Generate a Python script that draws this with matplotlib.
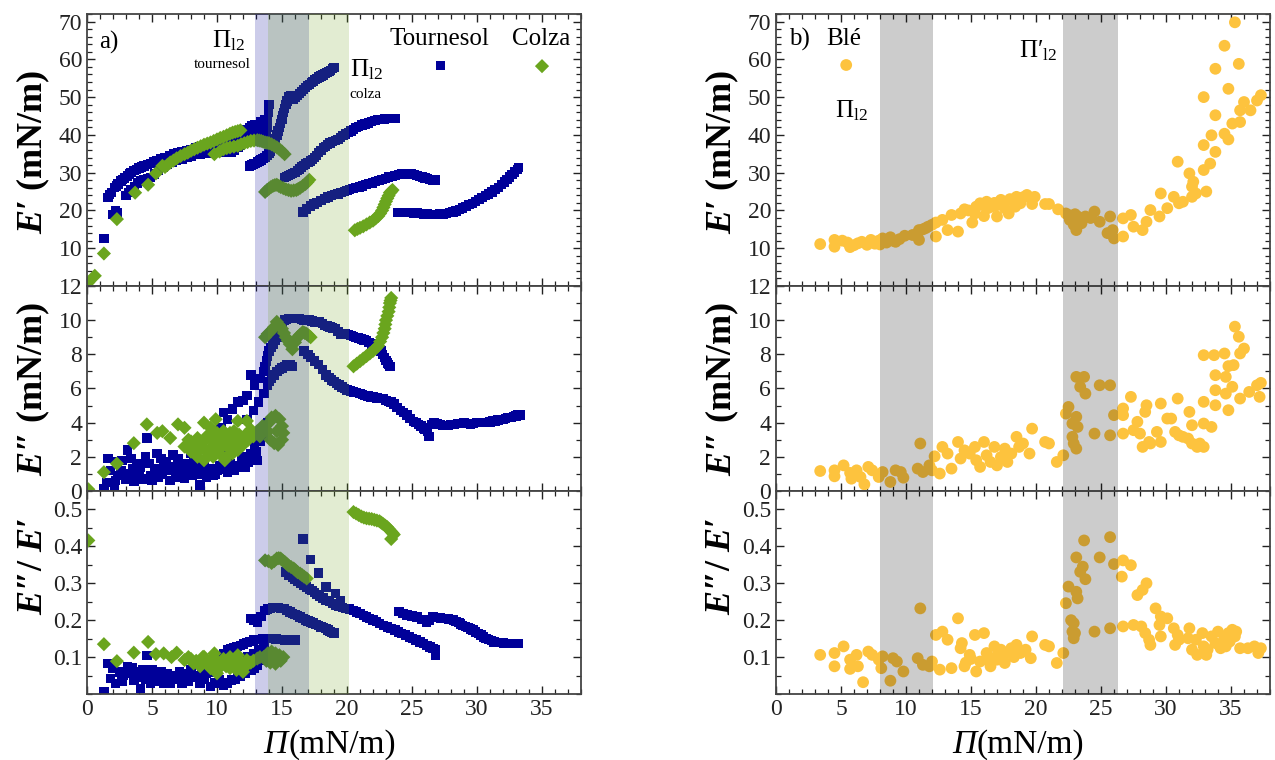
import matplotlib
matplotlib.use("Agg")
import matplotlib.pyplot as plt
from matplotlib.ticker import MultipleLocator

plt.rcParams['font.family'] = ['Liberation Serif', 'DejaVu Serif']
plt.rcParams['mathtext.fontset'] = 'custom'
plt.rcParams['mathtext.rm'] = 'Liberation Serif'
plt.rcParams['mathtext.it'] = 'Liberation Serif:italic'
plt.rcParams['mathtext.bf'] = 'Liberation Serif:bold'
plt.rcParams['mathtext.bfit'] = 'Liberation Serif:italic:bold'

# ---------------- Tournesol (blue squares) ----------------
tour_Ep_x = [1.3, 2.0, 2.2, 2.3, 1.6, 1.9, 2.1, 2.4, 2.6, 2.9, 3.1, 3.4, 3.6, 4.0, 4.4, 4.9, 5.4, 6.0, 6.7, 7.3,
             8.0, 8.7, 9.5, 10.1, 10.8, 11.3, 11.8, 12.3, 12.7, 13.1, 13.4, 13.7, 13.9,
             3.0, 3.4, 3.9, 4.4, 4.9, 5.5, 6.2, 6.9, 7.7, 8.4, 9.0, 9.7, 10.3, 11.1, 11.6, 12.0, 12.5, 12.9, 13.3,
             13.8, 13.85, 13.9, 13.95, 14.0,
             12.5, 12.8, 13.1, 13.4, 13.7, 14.0, 14.2, 14.4, 14.6, 14.8, 15.0, 15.1, 15.3, 15.5, 15.7, 15.9, 16.2,
             16.5, 16.8, 17.1, 17.4, 17.7, 18.0, 18.3, 18.6, 18.9, 19.0,
             15.2, 15.5, 15.8, 16.2, 16.5, 16.8, 17.2, 17.5, 17.8, 18.2, 18.5, 18.9, 19.3, 19.7, 20.1, 20.5, 20.9,
             21.4, 21.9, 22.4, 22.9, 23.4, 23.7,
             16.6, 17.2, 17.7, 18.3, 18.8, 19.3, 19.8, 20.2, 20.7, 21.2, 21.7, 22.2, 22.7, 23.2, 23.7, 24.2, 24.7,
             25.2, 25.6, 26.0, 26.4, 26.8,
             23.9, 24.4, 24.9, 25.4, 25.9, 26.4, 26.9, 27.4, 27.9, 28.4, 28.9, 29.4, 29.9, 30.4, 30.9, 31.4, 31.9,
             32.3, 32.7, 33.1, 33.2]
tour_Ep_y = [12.6, 19.0, 19.9, 19.4, 23.4, 24.8, 26.0, 27.0, 27.8, 28.6, 29.1, 30.0, 30.5, 31.2, 31.8, 32.4, 33.1,
             34.0, 34.9, 35.5, 36.2, 36.9, 37.5, 38.1, 38.8, 39.5, 40.1, 41.5, 42.3, 42.8, 43.5, 44.0, 43.5,
             24.0, 25.5, 27.3, 28.2, 28.7, 30.5, 32.2, 33.2, 34.0, 34.8, 35.0, 35.4, 35.7, 35.3, 36.6, 38.0, 40.1,
             40.8, 41.5,
             40.0, 42.0, 44.0, 46.0, 48.0,
             31.8, 32.3, 32.8, 33.4, 34.0, 35.0, 36.5, 38.0, 40.0, 42.0, 44.0, 46.0, 48.0, 50.0, 50.5, 49.5, 50.5,
             51.5, 52.5, 53.4, 54.2, 55.0, 55.6, 56.2, 56.8, 57.5, 57.8,
             28.7, 29.3, 29.8, 30.5, 31.5, 32.3, 33.1, 34.0, 35.3, 36.6, 37.4, 38.2, 38.8, 39.8, 40.6, 41.5, 42.2,
             42.9, 43.5, 44.0, 44.2, 44.4, 44.4,
             19.6, 21.2, 22.1, 23.2, 24.0, 24.4, 25.0, 25.6, 26.0, 26.5, 27.1, 27.6, 28.2, 28.8, 29.3, 29.6, 29.6,
             29.5, 29.0, 28.6, 28.2, 28.1,
             19.4, 19.5, 19.4, 19.3, 19.1, 19.0, 19.0, 19.1, 19.4, 19.9, 20.6, 21.5, 22.4, 23.4, 24.4, 25.5, 26.8,
             28.2, 29.5, 30.9, 31.3]
tour_Ep_x2 = [1.75, 2.25, 2.75, 3.25, 3.8, 4.2, 4.65, 5.15, 5.7, 6.35, 7.0, 7.65, 8.35, 9.1, 9.8, 10.45, 11.05,
              11.55, 12.05, 12.5, 12.9,
              3.2, 3.65, 4.15, 4.65, 5.2, 5.85, 6.55, 7.3, 8.05, 8.7, 9.35, 10.0, 10.7, 11.35, 11.8, 12.25, 12.7, 13.1,
              12.65, 12.95, 13.25, 13.55, 13.85, 14.1, 14.3, 14.5, 14.7, 14.9, 15.05, 15.2, 15.4, 16.05, 16.35,
              16.65, 16.95, 17.25, 17.55, 17.85, 18.15, 18.45, 18.75,
              15.35, 15.65, 16.0, 16.35, 16.65, 17.0, 17.35, 17.65, 18.0, 18.35, 18.7, 19.1, 19.5, 19.9, 20.3, 20.7,
              21.15, 21.65, 22.15, 22.65, 23.15,
              16.9, 17.45, 18.0, 18.55, 19.05, 19.55, 20.0, 20.45, 20.95, 21.45, 21.95, 22.45, 22.95, 23.45, 23.95,
              24.45, 24.95, 25.4, 25.8, 26.2, 26.6,
              24.15, 24.65, 25.15, 25.65, 26.15, 26.65, 27.15, 27.65, 28.15, 28.65, 29.15, 29.65, 30.15, 30.65,
              31.15, 31.65, 32.1, 32.5, 32.9]
tour_Ep_y2 = [24.2, 26.5, 28.2, 29.6, 30.9, 31.5, 32.1, 32.8, 33.6, 34.5, 35.2, 35.9, 36.6, 37.2, 37.8, 38.5, 39.1,
              39.8, 40.8, 41.9, 42.6,
              24.8, 26.4, 27.8, 28.5, 29.6, 31.3, 32.7, 33.6, 34.4, 34.9, 35.2, 35.5, 35.5, 36.0, 37.3, 39.0, 40.5, 41.1,
              32.0, 32.5, 33.1, 33.7, 34.5, 35.7, 37.2, 39.0, 41.0, 43.0, 45.0, 47.0, 49.0, 50.0, 51.0,
              52.0, 53.0, 53.8, 54.6, 55.3, 55.9, 56.5, 57.1,
              29.0, 29.5, 30.1, 31.0, 31.9, 32.7, 33.5, 34.6, 35.9, 37.0, 37.8, 38.5, 39.3, 40.2, 41.0, 41.9,
              42.6, 43.2, 43.8, 44.1, 44.3,
              20.4, 21.7, 22.7, 23.6, 24.2, 24.7, 25.3, 25.8, 26.2, 26.8, 27.3, 27.9, 28.5, 29.0, 29.5,
              29.6, 29.6, 29.3, 28.8, 28.4, 28.1,
              19.45, 19.45, 19.35, 19.2, 19.05, 19.0, 19.05, 19.2, 19.6, 20.2, 21.0, 21.9, 22.9, 23.9,
              24.9, 26.1, 27.5, 28.8, 30.2]

tour_Epp_x = [1.3, 2.1, 1.6, 2.3, 2.2, 3.1, 3.4, 3.6, 4.1, 4.6, 4.9, 5.7, 6.2, 6.6, 7.2, 7.5, 8.2, 8.7, 9.3, 9.5,
              10.0, 10.8, 11.8, 13.1, 2.6, 2.9, 3.3, 3.8, 4.3, 4.5, 5.2, 5.5, 5.9, 6.4, 6.9, 7.0, 7.8, 8.0, 8.5,
              9.0, 9.7, 10.2, 10.6, 11.0, 11.3, 11.9, 12.2, 12.6, 12.9, 13.2, 13.4, 13.7, 13.9,
              9.8, 10.3, 10.5, 10.8, 11.2, 11.6, 12.0, 12.3, 12.6, 12.9, 13.3, 13.6, 13.8, 14.0, 14.3, 14.6, 14.9, 15.2,
              12.3, 12.8, 13.2, 13.6, 13.9, 14.2, 14.6, 15.0, 15.4, 15.8,
              15.5, 15.9, 16.3, 16.7, 17.1, 17.5, 17.9, 18.3, 18.7, 19.1, 19.5, 19.9, 20.3, 20.7, 21.1, 21.5, 21.9,
              22.3, 22.6, 22.9, 23.1, 23.3,
              16.7, 17.2, 17.8, 18.4, 18.8, 19.2, 19.6, 20.0, 20.5, 21.0, 21.4, 21.8, 22.3, 22.8, 23.2, 23.6, 24.1,
              24.6, 25.1, 25.5, 25.9, 26.2, 26.3, 26.7, 27.2, 27.6, 28.0, 28.5, 29.0, 29.5, 30.0, 30.5, 31.0, 31.4,
              31.8, 32.2, 32.6, 33.0, 33.3]
tour_Epp_y = [0.16, 0.35, 1.9, 1.7, 0.6, 2.4, 1.9, 0.55, 1.4, 3.1, 0.9, 1.9, 1.2, 2.1, 1.5, 0.75, 1.7, 0.35, 1.1, 3.5,
              1.2, 1.1, 1.4, 1.8, 1.2, 0.9, 1.0, 1.6, 0.7, 2.0, 1.3, 0.8, 1.5, 0.6, 1.0, 1.9, 1.2, 2.2, 1.0,
              1.6, 0.9, 1.5, 2.2, 1.6, 1.2, 2.0, 1.4, 2.2, 2.6, 3.0, 3.2, 3.6, 4.0,
              3.0, 3.7, 4.6, 4.2, 4.8, 5.2, 5.3, 5.6, 6.8, 6.2, 6.6, 7.0, 7.6, 8.2, 8.6, 9.0, 9.5, 10.0,
              4.2, 4.7, 5.2, 5.7, 6.2, 6.6, 7.0, 7.2, 7.4, 7.3,
              10.1, 10.1, 10.1, 10.0, 10.0, 9.9, 9.9, 9.7, 9.6, 9.5, 9.2, 9.2, 9.1, 9.0, 8.9, 8.8, 8.6,
              8.4, 8.2, 7.8, 7.5, 7.3,
              8.2, 7.8, 7.4, 6.8, 6.5, 6.3, 6.1, 5.9, 5.8, 5.7, 5.6, 5.5, 5.45, 5.4, 5.25, 5.1, 4.7,
              4.45, 4.06, 3.9, 3.7, 3.5, 3.2, 4.0, 3.9, 3.85, 3.9, 3.95, 4.0, 3.9, 4.0, 4.0, 4.05, 4.1,
              4.2, 4.25, 4.3, 4.4, 4.45]
tour_Epp_x2 = [15.35, 15.7, 16.1, 16.5, 16.9, 17.3, 17.7, 18.1, 18.5, 18.9, 19.3, 19.7, 20.1, 20.5, 20.9, 21.3, 21.7,
               22.1, 22.45, 22.75, 23.0, 23.2,
               17.0, 17.5, 18.1, 18.6, 19.0, 19.4, 19.8, 20.25, 20.75, 21.2, 21.6, 22.05, 22.55, 23.0, 23.4, 23.85,
               24.35, 24.85, 25.3, 25.7, 26.0, 26.5, 26.95, 27.4, 27.8, 28.25, 28.75, 29.25, 29.75, 30.25, 30.75,
               31.2, 31.6, 32.0, 32.4, 32.8, 33.15,
               13.7, 13.9, 14.15, 14.45, 14.75, 15.05,
               14.05, 14.4, 14.8, 15.2, 15.6,
               1.5, 1.8, 2.4, 2.7, 3.0, 3.5, 4.0, 4.8, 5.0, 5.4, 5.8, 6.1, 6.5, 6.8, 7.3, 7.7, 8.1, 8.4, 8.9, 9.2,
               9.6, 9.9, 10.4, 10.9, 11.5, 12.0, 12.4, 12.7, 13.0, 13.3, 13.6]
tour_Epp_y2 = [10.05, 10.1, 10.1, 10.05, 10.0, 9.95, 9.9, 9.8, 9.65, 9.55, 9.35, 9.2, 9.15, 9.05, 8.95, 8.85, 8.7,
               8.5, 8.3, 8.0, 7.65, 7.4,
               8.0, 7.6, 7.1, 6.65, 6.4, 6.2, 6.0, 5.85, 5.75, 5.65, 5.55, 5.5, 5.42, 5.3, 5.2, 4.9,
               4.6, 4.25, 4.0, 3.8, 3.6, 3.9, 3.95, 3.85, 3.85, 3.9, 3.95, 3.95, 3.95, 4.0, 4.0,
               4.1, 4.15, 4.2, 4.3, 4.35, 4.45,
               7.3, 7.9, 8.4, 8.8, 9.25, 9.75,
               6.4, 6.8, 7.1, 7.3, 7.4,
               0.5, 1.2, 0.9, 1.8, 0.7, 1.3, 0.9, 1.6, 0.6, 2.2, 1.0, 1.7, 1.4, 0.8, 1.1, 1.6, 0.9, 1.4, 1.2, 0.8,
               1.3, 1.0, 1.3, 1.4, 1.5, 1.4, 1.7, 2.0, 2.3, 2.9, 3.3]

tour_ratio_x = [1.3, 1.6, 1.8, 2.2, 3.1, 3.6, 4.1, 4.6, 4.9, 5.7, 6.4, 7.5, 8.7, 9.5, 10.5, 11.1, 11.8, 12.6, 13.1, 13.6,
                2.5, 2.8, 3.3, 3.9, 4.3, 5.2, 5.5, 6.0, 6.8, 7.1, 7.8, 8.2, 9.0, 9.8, 10.2, 10.8, 11.4, 12.2, 12.9, 13.3,
                8.0, 8.8, 9.5, 10.2, 10.8, 11.3, 11.8, 12.3, 12.8, 13.3, 13.8, 14.3, 14.8, 15.2, 15.6, 16.0,
                12.6, 13.1, 13.7, 14.1, 14.5, 14.9, 15.2, 15.6, 16.0, 16.4, 16.8, 17.2, 17.6, 18.0, 18.4, 18.7, 19.0,
                16.6, 17.2, 17.8, 18.4, 19.1, 19.5,
                15.3, 15.8, 16.2, 16.7, 17.1, 17.5, 17.9, 18.4, 18.9, 19.4, 19.9, 20.5, 21.0, 21.5, 22.0, 22.5, 23.1,
                23.7, 24.2, 24.8, 25.3, 25.9, 26.4, 26.8, 26.8,
                24.0, 24.6, 25.4, 26.1, 26.6, 27.0, 27.4, 27.8, 28.2, 28.6, 28.9, 29.3, 29.7, 30.1, 30.5, 30.9, 31.3,
                31.8, 32.3, 32.8, 33.2]
tour_ratio_y = [0.006, 0.083, 0.042, 0.029, 0.074, 0.038, 0.015, 0.105, 0.029, 0.06, 0.029, 0.047, 0.029, 0.02, 0.024,
                0.038, 0.047, 0.065, 0.078, 0.1,
                0.06, 0.05, 0.055, 0.045, 0.065, 0.05, 0.035, 0.045, 0.04, 0.06, 0.035, 0.05, 0.04, 0.03, 0.04, 0.03,
                0.04, 0.055, 0.07, 0.09,
                0.065, 0.07, 0.08, 0.1, 0.119, 0.125, 0.132, 0.14, 0.146, 0.148, 0.15, 0.15, 0.148, 0.146, 0.146, 0.146,
                0.205, 0.195, 0.227, 0.232, 0.235, 0.232, 0.232, 0.222, 0.215, 0.209, 0.2, 0.195, 0.189, 0.182, 0.177,
                0.17, 0.165,
                0.42, 0.365, 0.328, 0.29, 0.272, 0.254,
                0.33, 0.315, 0.305, 0.295, 0.285, 0.275, 0.265, 0.254, 0.245, 0.238, 0.232, 0.227, 0.218, 0.209, 0.2,
                0.191, 0.182, 0.173, 0.164, 0.155, 0.146, 0.137, 0.127, 0.119, 0.105,
                0.223, 0.214, 0.209, 0.195, 0.209, 0.207, 0.205, 0.203, 0.2, 0.193, 0.186, 0.18, 0.173, 0.164, 0.155,
                0.148, 0.141, 0.139, 0.137, 0.137, 0.137]
tour_ratio_x2 = [15.55, 16.0, 16.45, 16.9, 17.3, 17.7, 18.15, 18.65, 19.15, 19.65, 20.2, 20.75, 21.25, 21.75, 22.25,
                 22.8, 23.4, 23.95, 24.5, 25.05, 25.6, 26.15, 26.6,
                 24.3, 25.0, 25.75, 26.35, 26.8, 27.2, 27.6, 28.0, 28.4, 28.75, 29.1, 29.5, 29.9, 30.3, 30.7, 31.1,
                 31.55, 32.05, 32.55, 33.0,
                 12.85, 13.4, 13.9, 14.3, 14.7, 15.05, 15.4, 15.8, 16.2, 16.6, 17.0, 17.4, 17.8, 18.2, 18.55, 18.85,
                 10.5, 11.05, 11.55, 12.05, 12.55, 13.05, 13.55, 14.05, 14.55, 15.0, 15.4, 15.8,
                 2.0, 2.7, 3.5, 4.0, 4.5, 5.0, 5.9, 6.2, 6.6, 7.3, 7.7, 8.5, 9.2, 9.7, 10.0, 10.4, 10.9, 11.3, 11.6,
                 12.0, 12.4, 12.8, 13.2, 13.6]
tour_ratio_y2 = [0.322, 0.31, 0.3, 0.29, 0.28, 0.27, 0.26, 0.25, 0.241, 0.235, 0.23, 0.222, 0.213, 0.205, 0.196,
                 0.186, 0.177, 0.168, 0.16, 0.15, 0.141, 0.132, 0.123,
                 0.218, 0.211, 0.202, 0.2, 0.208, 0.206, 0.204, 0.202, 0.196, 0.19, 0.183, 0.176, 0.168, 0.16, 0.151,
                 0.145, 0.14, 0.138, 0.137, 0.137,
                 0.2, 0.21, 0.23, 0.234, 0.234, 0.232, 0.227, 0.218, 0.212, 0.205, 0.198, 0.192, 0.185, 0.18, 0.173,
                 0.167,
                 0.11, 0.122, 0.128, 0.136, 0.143, 0.147, 0.149, 0.15, 0.149, 0.147, 0.146, 0.146,
                 0.07, 0.035, 0.07, 0.06, 0.04, 0.065, 0.03, 0.055, 0.05, 0.03, 0.055, 0.045, 0.055, 0.06, 0.07,
                 0.085, 0.09, 0.1, 0.06, 0.08, 0.1, 0.11, 0.12, 0.13]

# ---------------- Colza (green diamonds) ----------------
colza_Ep_x = [0.1, 0.6, 1.3, 2.3, 3.7, 4.7, 5.3, 5.8,
              6.0, 6.4, 6.9, 7.5, 8.0, 8.5, 9.0, 9.5, 10.0, 10.5, 11.0, 11.4, 11.8,
              9.8, 10.5, 11.0, 11.6, 12.1, 12.6, 13.1, 13.4, 13.7, 14.0, 14.4, 14.8, 15.2,
              13.7, 14.0, 14.3, 14.6, 14.9, 15.3, 15.7, 16.1, 16.4, 16.8, 17.1,
              20.6, 21.0, 21.5, 22.0, 22.4, 22.7, 22.9, 23.1, 23.3, 23.5]
colza_Ep_y = [0.9, 2.7, 8.6, 17.7, 24.7, 26.8, 29.8, 31.8,
              31.5, 32.7, 33.8, 34.9, 35.8, 36.6, 37.4, 38.0, 38.8, 39.5, 40.3, 40.8, 41.2,
              34.9, 36.2, 36.7, 37.1, 37.8, 38.4, 38.6, 38.4, 38.0, 37.8, 37.1, 36.2, 34.9,
              24.9, 25.8, 26.5, 26.8, 26.2, 25.6, 25.2, 25.4, 26.0, 27.0, 28.1,
              14.75, 15.4, 16.3, 17.3, 18.5, 20.0, 21.6, 23.2, 24.7, 25.4]
colza_Ep_x2 = [6.2, 6.65, 7.2, 7.75, 8.25, 8.75, 9.25, 9.75, 10.25, 10.75, 11.2, 11.6,
               10.2, 10.75, 11.3, 11.85, 12.35, 12.85, 13.25, 13.55, 13.85, 14.2, 14.6, 15.0,
               13.85, 14.15, 14.45, 14.75, 15.1, 15.5, 15.9, 16.25, 16.6, 16.95,
               20.8, 21.25, 21.75, 22.2, 22.55, 22.8, 23.0, 23.2, 23.4]
colza_Ep_y2 = [32.1, 33.2, 34.4, 35.3, 36.2, 37.0, 37.7, 38.4, 39.2, 39.9, 40.6, 41.0,
               35.6, 36.5, 36.9, 37.5, 38.1, 38.5, 38.5, 38.2, 37.9, 37.5, 36.7, 35.6,
               25.4, 26.2, 26.7, 26.5, 25.9, 25.4, 25.3, 25.7, 26.5, 27.5,
               15.1, 15.8, 16.8, 17.9, 19.2, 20.8, 22.4, 23.9, 25.0]

colza_Epp_x = [0.1, 1.3, 2.3, 3.6, 4.6, 5.4, 5.8, 6.4, 7.0, 7.5, 8.0, 8.5, 9.0, 9.5, 9.9, 10.0, 10.5, 11.1, 11.6,
               12.3, 13.1,
               7.5, 8.0, 8.5, 8.8, 9.0, 9.2, 9.5, 9.7, 10.0, 10.2, 10.4, 10.6, 10.8, 11.0, 11.2, 11.4, 11.6, 11.9, 12.2,
               13.9, 14.0, 14.2, 14.5, 14.8, 15.0, 15.1, 15.0, 14.7, 14.4, 14.1, 14.6,
               13.7, 14.2, 14.6, 15.0, 15.3, 15.6, 15.8, 16.2, 16.6, 16.9, 17.2,
               20.5, 21.0, 21.5, 22.0, 22.4, 22.7, 22.9, 23.0, 23.2, 23.3, 23.4]
colza_Epp_y = [0.1, 1.1, 1.6, 2.8, 3.9, 3.4, 3.5, 3.1, 3.9, 3.7, 2.9, 3.1, 4.0, 3.7, 4.2, 2.9, 3.5, 2.9, 4.1,
               4.1, 3.5,
               2.6, 2.3, 2.0, 2.6, 1.8, 3.2, 2.5, 2.0, 3.4, 2.2, 3.0, 1.8, 2.6, 3.4, 2.2, 3.0, 2.4, 3.0, 3.3,
               3.5, 4.0, 4.3, 4.4, 4.2, 3.8, 3.4, 3.0, 2.7, 2.8, 3.0, 3.5,
               9.0, 9.4, 9.9, 9.5, 9.0, 8.6, 8.3, 9.0, 9.3, 9.2, 9.0,
               7.3, 7.6, 7.9, 8.2, 8.5, 9.0, 9.5, 10.0, 10.5, 11.0, 11.3]
colza_Epp_x2 = [20.75, 21.25, 21.75, 22.2, 22.55, 22.8, 22.95, 23.1, 23.25, 23.35,
                7.8, 8.2, 8.6, 9.0, 9.3, 9.6, 9.9, 10.1, 10.3, 10.5, 10.7, 10.9, 11.1, 11.3, 11.5, 11.7, 12.0,
                12.4, 12.6, 12.8, 13.3, 13.5,
                13.9, 14.4, 14.8, 15.15, 15.45, 16.0, 16.4, 16.75, 17.05]
colza_Epp_y2 = [7.45, 7.75, 8.05, 8.35, 8.75, 9.25, 9.75, 10.25, 10.75, 11.15,
                3.0, 2.7, 2.4, 2.9, 2.2, 3.0, 2.7, 2.4, 3.3, 2.7, 3.1, 2.1, 2.7, 3.5, 2.8, 3.3, 2.7,
                3.0, 3.6, 3.2, 3.2, 3.8,
                9.2, 9.6, 9.7, 9.25, 8.8, 8.7, 9.15, 9.25, 9.1]

colza_ratio_x = [0.1, 1.3, 2.3, 3.6, 4.7, 5.3, 5.9, 6.5, 6.9, 7.5, 8.2, 9.0, 9.8, 10.0, 10.8, 11.6, 12.3, 13.1,
                 7.8, 8.4, 8.7, 9.2, 9.5, 9.8, 10.3, 10.5, 11.0, 11.2, 11.5, 11.8, 12.0, 12.6,
                 13.6, 13.9, 14.2, 14.5, 14.8, 15.1, 14.9, 14.5, 14.1, 13.8,
                 13.7, 14.2, 14.6, 14.9, 15.2, 15.5, 15.9, 16.2, 16.4, 16.7, 16.9,
                 20.5, 20.9, 21.3, 21.7, 22.1, 22.5, 22.8, 23.1, 23.4, 23.6, 23.4]
colza_ratio_y = [0.416, 0.135, 0.089, 0.112, 0.141, 0.108, 0.11, 0.1, 0.112, 0.092, 0.083, 0.101, 0.11, 0.056, 0.083,
                 0.105, 0.092, 0.096,
                 0.1, 0.09, 0.075, 0.085, 0.07, 0.09, 0.075, 0.095, 0.07, 0.09, 0.065, 0.08, 0.06, 0.085,
                 0.1, 0.11, 0.115, 0.11, 0.105, 0.1, 0.09, 0.082, 0.085, 0.09,
                 0.362, 0.355, 0.367, 0.367, 0.358, 0.348, 0.34, 0.33, 0.326, 0.318, 0.313,
                 0.493, 0.485, 0.478, 0.475, 0.472, 0.468, 0.46, 0.452, 0.44, 0.432, 0.42]
colza_ratio_x2 = [8.0, 8.6, 8.9, 9.35, 9.6, 10.1, 10.7, 11.0, 11.35, 11.7, 12.2, 12.8, 13.3, 14.0, 14.35, 14.7,
                  13.95, 14.4, 14.75, 15.05, 15.35, 15.7, 16.05, 16.55,
                  20.7, 21.1, 21.5, 21.9, 22.3, 22.65, 22.95, 23.25, 23.5]
colza_ratio_y2 = [0.095, 0.08, 0.1, 0.078, 0.095, 0.085, 0.075, 0.1, 0.08, 0.09, 0.075, 0.09, 0.1, 0.1, 0.098, 0.095,
                  0.36, 0.36, 0.368, 0.362, 0.353, 0.344, 0.335, 0.322,
                  0.489, 0.481, 0.476, 0.474, 0.47, 0.464, 0.456, 0.446, 0.436]

# ---------------- Blé (yellow circles) ----------------
ble_Ep_x = [3.4, 4.5, 4.5, 5.1, 5.7, 6.3, 7.0, 7.3, 7.9, 8.2, 8.5, 8.8, 9.5, 9.9, 11.0, 10.9, 11.0, 11.7, 12.3, 12.3,
            12.8, 13.2, 13.5, 14.0, 14.2, 14.5, 15.1, 15.3, 15.4, 15.7, 16.0, 16.2, 16.3, 17.0, 17.0, 17.3, 17.6,
            17.9, 18.2, 18.5, 18.8, 19.3, 19.6, 19.7, 19.9, 20.7, 21.0, 21.7, 22.3, 22.6, 22.9, 23.1, 23.2, 23.5,
            23.8, 24.5, 24.9, 25.7, 25.9, 26.0, 26.7, 26.7, 27.3, 27.5, 28.2, 28.5, 28.8, 29.5, 29.6, 30.1, 30.6,
            30.9, 31.0, 31.3, 31.8, 32.0, 32.0, 32.1, 32.3, 32.9, 32.9, 32.9, 33.1, 33.4, 33.5, 33.8, 33.8, 33.8,
            34.5, 34.5, 34.8, 34.8, 35.1, 35.3, 35.6, 35.7, 35.7, 36.0, 36.5, 37.0, 37.3,
            5.5, 6.0, 6.6, 7.6, 8.0, 8.3, 9.0, 9.2, 10.5, 11.3, 11.5, 12.0, 14.8, 15.9, 16.6, 16.8, 17.5, 18.0,
            18.4, 19.0, 22.5, 22.8, 23.0, 23.4, 24.2, 25.5]
ble_Ep_y = [11.1, 12.2, 10.4, 12.0, 10.3, 11.3, 10.9, 12.2, 12.0, 12.6, 11.5, 12.9, 12.4, 13.3, 12.2, 14.0, 14.8,
            15.7, 16.8, 13.1, 17.5, 14.8, 18.8, 14.4, 19.2, 20.3, 16.8, 19.2, 21.0, 21.9, 18.5, 22.3, 20.6, 18.4,
            21.4, 22.8, 20.6, 19.2, 22.8, 23.6, 21.9, 24.1, 23.2, 21.7, 23.6, 21.7, 21.7, 20.3, 19.2, 17.5, 16.2,
            14.8, 18.4, 16.6, 18.4, 19.7, 17.0, 18.4, 14.8, 12.6, 13.1, 17.9, 18.8, 15.7, 14.8, 17.0, 20.1, 18.4,
            24.5, 20.6, 23.6, 32.9, 21.9, 22.3, 29.8, 26.3, 23.6, 27.6, 24.5, 30.7, 37.3, 50.0, 25.0, 32.4, 39.9,
            35.5, 57.5, 45.2, 40.3, 63.6, 52.2, 38.8, 43.0, 69.8, 58.8, 43.4, 46.5, 48.7, 46.5, 49.1, 50.5,
            11.5, 10.8, 11.7, 11.2, 11.0, 11.8, 12.0, 11.7, 13.5, 15.0, 15.3, 16.2, 20.0, 21.4, 21.0, 22.0, 21.5,
            23.0, 21.0, 23.5, 18.8, 17.8, 19.0, 17.2, 18.0, 14.0]

ble_Epp_x = [3.4, 4.5, 4.5, 5.2, 5.7, 5.8, 6.2, 6.5, 6.8, 7.1, 7.4, 7.9, 8.2, 8.8, 9.2, 9.6, 9.8, 10.9, 11.1, 11.3,
             11.8, 12.0, 12.2, 12.6, 12.8, 13.2, 13.5, 14.0, 14.2, 14.5, 14.9, 15.3, 15.4, 15.7, 16.0, 16.2, 16.5,
             16.8, 17.0, 17.3, 17.6, 17.8, 18.1, 18.5, 18.7, 19.0, 19.5, 19.7, 20.7, 21.0, 21.6, 22.1, 22.3, 22.5,
             22.8, 22.8, 22.9, 23.1, 23.1, 23.2, 23.1, 23.4, 23.7, 23.8, 24.5, 24.9, 25.7, 25.7, 26.0, 26.7, 26.7,
             26.7, 27.3, 27.5, 27.8, 28.0, 28.2, 28.4, 28.5, 28.7, 28.8, 29.3, 29.6, 29.6, 30.1, 30.4, 30.7, 30.9,
             31.0, 31.3, 31.7, 31.8, 32.0, 32.0, 32.4, 32.6, 32.9, 32.9, 32.9, 32.9, 33.5, 33.7, 33.8, 33.8, 33.8,
             34.5, 34.6, 34.6, 34.8, 34.8, 35.1, 35.2, 35.3, 35.6, 35.7, 35.7, 36.0, 36.4, 37.0, 37.2, 37.3]
ble_Epp_y = [1.17, 0.86, 1.21, 1.5, 1.06, 0.72, 1.21, 0.82, 0.39, 1.41, 1.21, 0.82, 1.11, 0.53, 1.21, 1.11, 0.78,
             1.31, 2.78, 1.11, 1.5, 1.21, 2.03, 1.02, 2.58, 2.19, 1.31, 2.87, 1.9, 2.38, 2.19, 2.58, 1.8, 1.41, 2.87,
             2.09, 1.7, 2.58, 1.5, 1.99, 2.48, 1.7, 2.19, 3.17, 2.58, 2.78, 2.19, 3.65, 2.87, 2.78, 1.7, 2.09, 4.53,
             4.92, 3.95, 3.17, 2.78, 4.34, 2.48, 3.75, 6.68, 6.1, 6.68, 5.7, 3.36, 6.19, 3.26, 6.19, 4.44, 4.44,
             3.36, 4.83, 5.51, 3.56, 4.05, 3.36, 2.58, 4.63, 5.02, 2.87, 2.78, 3.46, 5.12, 2.87, 4.24, 4.24, 3.46,
             5.41, 3.26, 3.17, 3.07, 4.63, 2.78, 3.85, 2.58, 2.78, 2.58, 5.22, 7.95, 3.95, 3.75, 7.95, 5.9, 6.78,
             5.02, 8.05, 6.68, 5.7, 7.31, 4.73, 6.1, 7.37, 9.62, 9.03, 8.05, 5.41, 8.34, 5.8, 6.19, 5.51, 6.33]

ble_ratio_x = [3.4, 4.5, 4.5, 5.2, 5.7, 5.7, 6.2, 6.3, 6.7, 7.1, 7.4, 7.9, 8.1, 8.2, 8.8, 9.0, 9.3, 9.8, 10.9, 11.1,
               11.3, 11.8, 12.0, 12.3, 12.6, 12.8, 13.2, 13.5, 14.0, 14.2, 14.3, 14.5, 14.9, 15.3, 15.4, 15.7, 16.0,
               16.2, 16.5, 16.8, 17.0, 17.3, 17.6, 17.8, 18.1, 18.5, 18.8, 19.2, 19.6, 19.7, 20.7, 21.0, 21.6, 22.1,
               22.3, 22.5, 22.7, 22.8, 22.9, 22.9, 23.0, 23.1, 23.1, 23.2, 23.4, 23.6, 23.7, 23.8, 24.5, 24.9, 25.7,
               25.7, 26.0, 26.7, 26.6, 26.7, 27.3, 27.5, 27.8, 28.1, 28.2, 28.4, 28.5, 28.7, 28.8, 29.2, 29.5, 29.6,
               29.6, 30.1, 30.6, 30.7, 30.9, 31.0, 31.7, 31.8, 32.0, 32.3, 32.4, 32.8, 32.9, 33.1, 33.2, 33.5, 33.8,
               34.0, 34.2, 34.5, 34.6, 34.8, 34.9, 35.1, 35.3, 35.4, 35.7, 36.3, 36.8, 37.1, 37.3,
               15.0, 16.4, 17.2, 18.3, 19.0, 14.6, 16.9]
ble_ratio_y = [0.106, 0.111, 0.075, 0.129, 0.093, 0.068, 0.106, 0.075, 0.032, 0.115, 0.106, 0.093, 0.07, 0.102, 0.036,
               0.097, 0.088, 0.061, 0.097, 0.232, 0.079, 0.075, 0.088, 0.16, 0.066, 0.169, 0.147, 0.07, 0.205, 0.124,
               0.138, 0.075, 0.106, 0.16, 0.061, 0.088, 0.165, 0.111, 0.075, 0.129, 0.093, 0.12, 0.084, 0.111, 0.124,
               0.133, 0.111, 0.12, 0.097, 0.156, 0.133, 0.129, 0.084, 0.111, 0.246, 0.291, 0.2, 0.169, 0.151, 0.192,
               0.165, 0.277, 0.37, 0.259, 0.331, 0.345, 0.416, 0.311, 0.169, 0.37, 0.425, 0.178, 0.352, 0.183, 0.318,
               0.362, 0.349, 0.187, 0.268, 0.183, 0.282, 0.165, 0.3, 0.147, 0.133, 0.232, 0.187, 0.21, 0.156, 0.205,
               0.178, 0.133, 0.16, 0.147, 0.151, 0.178, 0.12, 0.147, 0.106, 0.165, 0.129, 0.106, 0.12, 0.156, 0.138,
               0.169, 0.124, 0.151, 0.129, 0.165, 0.142, 0.174, 0.156, 0.169, 0.124, 0.124, 0.129, 0.111, 0.124,
               0.095, 0.09, 0.105, 0.1, 0.115, 0.085, 0.1]

# bands
tour_band = (12.95, 17.1)
colza_band = (13.95, 20.15)
ble_bands = [(8.0, 12.1), (22.1, 26.3)]

BLUE = '#000099'
GREEN = '#6aa51e'
YELLOW = '#fdc33e'
TICK_FS = 17

fig = plt.figure(figsize=(12.75, 7.6), dpi=100)
W, H = 1275.0, 760.0
rows = [(14, 286), (286, 491), (491, 694)]
cols = [(87, 581), (776, 1270)]
axes = {}
for ci, (x0, x1) in enumerate(cols):
    for ri, (y0, y1) in enumerate(rows):
        ax = fig.add_axes([x0 / W, 1 - y1 / H, (x1 - x0) / W, (y1 - y0) / H])
        axes[(ci, ri)] = ax

ylims = [(0, 72), (0, 12), (0, 0.55)]
ymaj = [10, 2, 0.1]
ymin = [2, 1, 0.05]
for (ci, ri), ax in axes.items():
    ax.set_xlim(0, 38)
    ax.set_ylim(*ylims[ri])
    ax.xaxis.set_major_locator(MultipleLocator(5))
    ax.xaxis.set_minor_locator(MultipleLocator(1))
    ax.yaxis.set_major_locator(MultipleLocator(ymaj[ri]))
    ax.yaxis.set_minor_locator(MultipleLocator(ymin[ri]))
    ax.tick_params(which='both', direction='in', top=True, right=True, labelsize=TICK_FS, colors='#222222')
    ax.tick_params(which='major', length=6, width=1.0)
    ax.tick_params(which='minor', length=3.5, width=0.9)
    for sp in ax.spines.values():
        sp.set_color('#444444')
        sp.set_linewidth(1.3)
    if ri < 2:
        ax.tick_params(labelbottom=False)
    if ri == 0:
        ax.set_yticks([10, 20, 30, 40, 50, 60, 70])
    elif ri == 1:
        ax.set_yticks([0, 2, 4, 6, 8, 10, 12])
    else:
        ax.set_yticks([0.1, 0.2, 0.3, 0.4, 0.5])
        ax.set_yticklabels(['0.1', '0.2', '0.3', '0.4', '0.5'])

SQ = 46
DI = 52
CI = 72
left_data = [(tour_Ep_x + tour_Ep_x2, tour_Ep_y + tour_Ep_y2, colza_Ep_x + colza_Ep_x2, colza_Ep_y + colza_Ep_y2),
             (tour_Epp_x + tour_Epp_x2, tour_Epp_y + tour_Epp_y2, colza_Epp_x + colza_Epp_x2,
              colza_Epp_y + colza_Epp_y2),
             (tour_ratio_x + tour_ratio_x2, tour_ratio_y + tour_ratio_y2, colza_ratio_x + colza_ratio_x2,
              colza_ratio_y + colza_ratio_y2)]
for ri, (tx, ty, cx, cy) in enumerate(left_data):
    ax = axes[(0, ri)]
    ax.scatter(tx, ty, s=SQ, marker='s', color=BLUE, edgecolors='none', zorder=2)
    ax.scatter(cx, cy, s=DI, marker='D', color=GREEN, edgecolors='none', zorder=2.5)
    ax.axvspan(*tour_band, color=(0, 0, 0.6), alpha=0.2, lw=0, zorder=3)
    ax.axvspan(*colza_band, color=(0.43, 0.63, 0.12), alpha=0.2, lw=0, zorder=3)

right_data = [(ble_Ep_x, ble_Ep_y), (ble_Epp_x, ble_Epp_y), (ble_ratio_x, ble_ratio_y)]
for ri, (bx, by) in enumerate(right_data):
    ax = axes[(1, ri)]
    ax.scatter(bx, by, s=CI, marker='o', color=YELLOW, edgecolors='none', zorder=2)
    for b0, b1 in ble_bands:
        ax.axvspan(b0, b1, color='black', alpha=0.2, lw=0, zorder=3)

# annotations left
a0 = axes[(0, 0)]
a0.text(0.9, 64.5, 'a)', fontsize=18, ha='left', va='center')
a0.text(10.9, 65.0, r'$\Pi_{\mathrm{l2}}$', fontsize=18, ha='center', va='center')
a0.text(10.4, 58.5, 'tournesol', fontsize=11, ha='center', va='center')
a0.text(21.5, 57.3, r'$\Pi_{\mathrm{l2}}$', fontsize=18, ha='center', va='center')
a0.text(21.4, 50.8, 'colza', fontsize=11, ha='center', va='center')
a0.text(27.1, 65.3, 'Tournesol', fontsize=18, ha='center', va='center')
a0.text(34.9, 65.3, 'Colza', fontsize=18, ha='center', va='center')
a0.scatter([27.2], [58.4], s=SQ, marker='s', color=BLUE, edgecolors='none')
a0.scatter([35.0], [58.2], s=DI, marker='D', color=GREEN, edgecolors='none')

b0 = axes[(1, 0)]
b0.text(1.0, 65.3, 'b)', fontsize=18, ha='left', va='center')
b0.text(5.2, 65.3, 'Blé', fontsize=18, ha='center', va='center')
b0.scatter([5.4], [58.5], s=CI, marker='o', color=YELLOW, edgecolors='none')
b0.text(5.8, 46.5, r'$\Pi_{\mathrm{l2}}$', fontsize=18, ha='center', va='center')
b0.text(20.2, 62.2, r"Π′$_{\mathrm{l2}}$", fontsize=18, ha='center', va='center')

# axis labels
YL = 26
for xc in (33, 722):
    fig.text(xc / W, 1 - 152 / H, r"$\mathbfit{E}$′ (mN/m)", rotation=90, fontsize=YL,
             fontweight='bold', ha='center', va='center')
    fig.text(xc / W, 1 - 389 / H, r"$\mathbfit{E}$″ (mN/m)", rotation=90, fontsize=YL,
             fontweight='bold', ha='center', va='center')
    fig.text(xc / W, 1 - 566 / H, r"$\mathbfit{E}$″/ $\mathbfit{E}$′", rotation=90, fontsize=YL,
             fontweight='bold', ha='center', va='center')
for (x0, x1) in cols:
    cx = (x0 + x1) / 2.0
    fig.text((cx - 47) / W, 1 - 753 / H, 'Π', style='italic', fontsize=24, ha='right', va='baseline')
    fig.text((cx - 46) / W, 1 - 753 / H, '(mN/m)', fontsize=24, ha='left', va='baseline')

fig.savefig('out.png', dpi=100)
